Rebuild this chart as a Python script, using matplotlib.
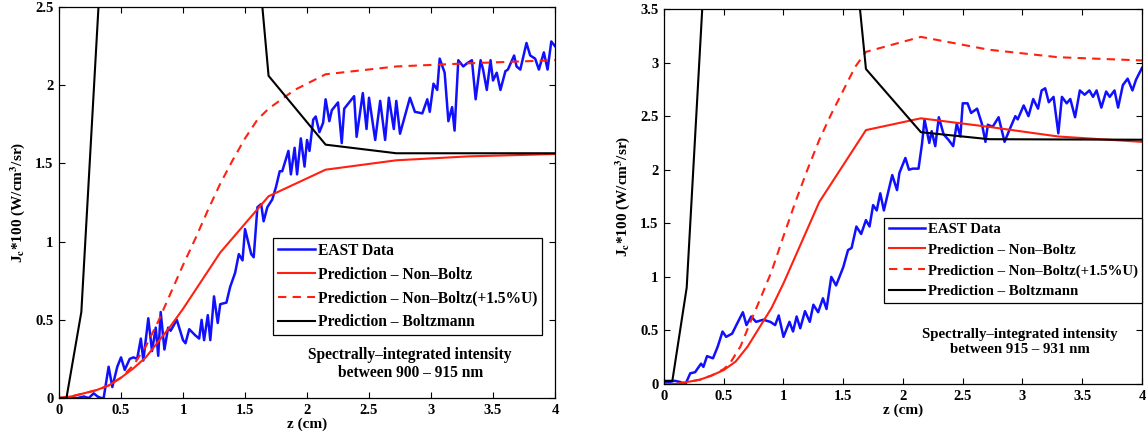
import matplotlib
matplotlib.use('Agg')
import matplotlib.pyplot as plt

plt.rcParams['font.family'] = 'Liberation Serif'
plt.rcParams['font.weight'] = 'bold'
plt.rcParams['mathtext.fontset'] = 'stix'

# ---- left panel: 900 - 915 nm ----
east_z_l = [0, 0.1, 0.15, 0.2, 0.24, 0.28, 0.31, 0.34, 0.36, 0.4, 0.43, 0.47, 0.5, 0.53, 0.57, 0.6, 0.63,
            0.66, 0.68, 0.72, 0.75, 0.78, 0.8, 0.82, 0.85, 0.88, 0.9, 0.95, 1.0, 1.02, 1.05, 1.1, 1.13, 1.15,
            1.17, 1.2, 1.22, 1.25, 1.28, 1.3, 1.35, 1.38, 1.42, 1.45, 1.48, 1.5, 1.55, 1.57, 1.6, 1.63, 1.65,
            1.68, 1.72, 1.75, 1.78, 1.8, 1.85, 1.87, 1.9, 1.92, 1.95, 1.98, 2.0, 2.02, 2.05, 2.07, 2.1, 2.13,
            2.15, 2.18, 2.2, 2.25, 2.28, 2.3, 2.35, 2.38, 2.4, 2.45, 2.48, 2.5, 2.55, 2.59, 2.63, 2.66, 2.7,
            2.72, 2.75, 2.83, 2.87, 2.93, 2.97, 2.99, 3.02, 3.05, 3.07, 3.11, 3.14, 3.17, 3.19, 3.22, 3.26,
            3.29, 3.33, 3.36, 3.4, 3.42, 3.45, 3.48, 3.5, 3.53, 3.56, 3.6, 3.62, 3.67, 3.69, 3.72, 3.77, 3.8,
            3.84, 3.87, 3.91, 3.94, 3.97, 4.0]
east_y_l = [0, 0, 0, 0.01, 0, 0.03, 0.01, 0, 0, 0.2, 0.07, 0.2, 0.26, 0.18, 0.25, 0.26, 0.25,
            0.38, 0.24, 0.51, 0.3, 0.45, 0.27, 0.55, 0.31, 0.45, 0.43, 0.5, 0.37, 0.35, 0.44, 0.4, 0.38, 0.5,
            0.37, 0.53, 0.37, 0.65, 0.48, 0.6, 0.61, 0.71, 0.8, 0.92, 0.88, 1.08, 0.92, 0.9, 1.22, 1.24, 1.13,
            1.22, 1.27, 1.35, 1.45, 1.45, 1.58, 1.43, 1.6, 1.43, 1.66, 1.48, 1.65, 1.58, 1.78, 1.8, 1.7, 1.76,
            1.91, 1.77, 1.84, 1.89, 1.63, 1.85, 1.9, 1.93, 1.67, 1.95, 1.72, 1.92, 1.65, 1.9, 1.65, 1.92, 1.72,
            1.9, 1.69, 1.92, 1.83, 1.82, 1.91, 1.83, 2.01, 1.97, 2.17, 2.08, 1.77, 1.86, 1.71, 2.16, 2.12,
            2.14, 2.16, 1.91, 2.16, 2.1, 1.97, 2.16, 2.03, 2.08, 1.97, 2.09, 2.1, 2.19, 2.12, 2.1, 2.27, 2.19,
            2.17, 2.1, 2.21, 2.1, 2.28, 2.25]

nb_z_l = [0, 0.1, 0.2, 0.3, 0.4, 0.5, 0.6, 0.7, 0.8, 0.9, 1.0, 1.1, 1.2, 1.3, 1.69, 2.15, 2.72, 3.3, 4.0]
nb_y_l = [0, 0.01, 0.03, 0.05, 0.08, 0.13, 0.19, 0.26, 0.36, 0.46, 0.57, 0.69, 0.81, 0.93, 1.29, 1.46, 1.52,
          1.545, 1.56]

nbu_z_l = [0, 0.1, 0.2, 0.3, 0.4, 0.5, 0.6, 0.7, 0.8, 0.9, 1.0, 1.1, 1.2, 1.3, 1.4, 1.5, 1.6, 1.69, 1.9,
           2.15, 2.72, 3.3, 4.0]
nbu_y_l = [0, 0.01, 0.03, 0.05, 0.08, 0.13, 0.21, 0.33, 0.49, 0.67, 0.85, 1.02, 1.2, 1.37, 1.52, 1.66,
           1.78, 1.85, 1.97, 2.07, 2.12, 2.14, 2.16]

bz_z_l = [0, 0.06, 0.18, 0.45, 1.5, 1.69, 2.15, 2.72, 4.0]
bz_y_l = [0, 0, 0.55, 4.36, 3.73, 2.06, 1.62, 1.565, 1.565]

# ---- right panel: 915 - 931 nm ----
east_z_r = [0, 0.05, 0.09, 0.13, 0.18, 0.22, 0.26, 0.31, 0.33, 0.36, 0.41, 0.45, 0.49, 0.52, 0.57, 0.61,
            0.66, 0.69, 0.73, 0.77, 0.83, 0.89, 0.93, 0.96, 1.0, 1.05, 1.08, 1.11, 1.14, 1.18, 1.22, 1.25,
            1.29, 1.33, 1.36, 1.4, 1.44, 1.5, 1.54, 1.57, 1.61, 1.65, 1.69, 1.72, 1.75, 1.78, 1.81, 1.84,
            1.88, 1.91, 1.95, 1.97, 2.02, 2.05, 2.08, 2.13, 2.16, 2.18, 2.22, 2.24, 2.27, 2.3, 2.34, 2.38,
            2.42, 2.45, 2.48, 2.5, 2.54, 2.57, 2.62, 2.66, 2.69, 2.71, 2.75, 2.8, 2.85, 2.89, 2.94, 2.96,
            3.01, 3.05, 3.09, 3.13, 3.16, 3.19, 3.22, 3.26, 3.3, 3.33, 3.37, 3.4, 3.44, 3.48, 3.52, 3.56,
            3.59, 3.62, 3.66, 3.7, 3.73, 3.77, 3.8, 3.84, 3.88, 3.92, 3.95, 4.0]
east_y_r = [0.02, 0.02, 0.03, 0.02, 0.0, 0.1, 0.11, 0.19, 0.16, 0.26, 0.24, 0.35, 0.49, 0.44, 0.47, 0.56,
            0.67, 0.55, 0.63, 0.58, 0.6, 0.58, 0.55, 0.64, 0.44, 0.58, 0.49, 0.63, 0.52, 0.68, 0.58, 0.74,
            0.67, 0.8, 0.7, 1.0, 0.92, 1.09, 1.25, 1.27, 1.47, 1.4, 1.53, 1.47, 1.67, 1.62, 1.78, 1.62,
            1.81, 1.95, 1.81, 1.97, 2.11, 2.0, 2.01, 2.01, 2.25, 2.47, 2.25, 2.36, 2.22, 2.49, 2.33, 2.28,
            2.22, 2.43, 2.31, 2.62, 2.62, 2.53, 2.57, 2.43, 2.26, 2.42, 2.4, 2.49, 2.26, 2.37, 2.5, 2.47,
            2.6, 2.5, 2.66, 2.57, 2.74, 2.76, 2.63, 2.68, 2.34, 2.68, 2.62, 2.66, 2.49, 2.74, 2.7, 2.74,
            2.68, 2.74, 2.58, 2.73, 2.68, 2.74, 2.58, 2.79, 2.85, 2.74, 2.84, 2.95]

nb_z_r = [0, 0.1, 0.2, 0.3, 0.4, 0.5, 0.6, 0.7, 0.8, 0.9, 1.0, 1.3, 1.69, 2.15, 2.72, 3.3, 4.0]
nb_y_r = [0, 0.0, 0.02, 0.04, 0.08, 0.13, 0.21, 0.35, 0.53, 0.71, 0.94, 1.7, 2.37, 2.48, 2.4, 2.31, 2.26]

nbu_z_r = [0, 0.1, 0.2, 0.3, 0.4, 0.5, 0.55, 0.64, 0.72, 0.8, 0.9, 1.0, 1.1, 1.2, 1.3, 1.4, 1.5, 1.6,
           1.69, 2.15, 2.72, 3.3, 4.0]
nbu_y_r = [0, 0, 0.02, 0.04, 0.08, 0.14, 0.19, 0.35, 0.57, 0.78, 1.05, 1.38, 1.7, 2.0, 2.28, 2.52, 2.74,
           2.96, 3.1, 3.24, 3.12, 3.05, 3.02]

bz_z_r = [0, 0.07, 0.19, 0.45, 1.5, 1.69, 2.15, 2.72, 4.0]
bz_y_r = [0.03, 0.03, 0.9, 6.1, 5.07, 2.94, 2.35, 2.285, 2.28]

labels = ['EAST Data', 'Prediction \u2013 Non\u2013Boltz', 'Prediction \u2013 Non\u2013Boltz(+1.5%U)',
          'Prediction \u2013 Boltzmann']

fig = plt.figure(figsize=(11.46, 4.42), dpi=100)
ax1 = fig.add_axes([0.0515, 0.0995, 0.4328, 0.8846])
ax2 = fig.add_axes([0.5794, 0.1312, 0.4171, 0.8484])

panels = [
    (ax1, east_z_l, east_y_l, nb_z_l, nb_y_l, nbu_z_l, nbu_y_l, bz_z_l, bz_y_l, 2.5,
     [0, 0.5, 1, 1.5, 2, 2.5], (0.974, 0.409), (0.708, 0.087), 'between 900 \u2013 915 nm', 11.2),
    (ax2, east_z_r, east_y_r, nb_z_r, nb_y_r, nbu_z_r, nbu_y_r, bz_z_r, bz_y_r, 3.5,
     [0, 0.5, 1, 1.5, 2, 2.5, 3, 3.5], (1.0, 0.443), (0.745, 0.112), 'between 915 \u2013 931 nm', 10.7),
]

for ax, ez, ey, nz, ny, uz, uy, bz, by, ymax, yt, leg_anchor, txt_pos, txt2, fs in panels:
    ax.plot(ez, ey, color='#1010ff', lw=1.8, label=labels[0])
    ax.plot(nz, ny, color='#ff2010', lw=1.5, label=labels[1])
    ax.plot(uz, uy, color='#ff2010', lw=1.5, ls=(0, (4, 3)), label=labels[2])
    ax.plot(bz, by, color='black', lw=1.5, label=labels[3])
    ax.set_xlim(0, 4)
    ax.set_ylim(0, ymax)
    ax.set_xticks([0, 0.5, 1, 1.5, 2, 2.5, 3, 3.5, 4])
    ax.set_xticklabels(['0', '0.5', '1', '1.5', '2', '2.5', '3', '3.5', '4'])
    ax.set_yticks(yt)
    ax.set_yticklabels(['%g' % v for v in yt])
    ax.tick_params(direction='in', top=True, right=True, length=4, width=0.8, labelsize=10.5, pad=4)
    for sp in ax.spines.values():
        sp.set_linewidth(0.9)
    ax.set_xlabel('z (cm)', fontsize=11, fontweight='bold', labelpad=1)
    ax.set_ylabel(r'J$_{\mathbf{c}}$*100 (W/cm$^{\mathbf{3}}$/sr)', fontsize=11, fontweight='bold', labelpad=6)
    leg = ax.legend(loc='upper right', bbox_to_anchor=leg_anchor, borderaxespad=0, fancybox=False,
                    framealpha=1, edgecolor='black', handlelength=2.4, handletextpad=0.2,
                    prop={'family': 'Liberation Serif', 'weight': 'bold', 'size': fs},
                    labelspacing=0.5, borderpad=0.3)
    leg.get_frame().set_linewidth(0.9)
    ax.text(txt_pos[0], txt_pos[1], 'Spectrally\u2013integrated intensity\n' + txt2,
            transform=ax.transAxes, ha='center', va='center', fontsize=fs, fontweight='bold',
            linespacing=1.2)

fig.savefig('out.png', dpi=100)
